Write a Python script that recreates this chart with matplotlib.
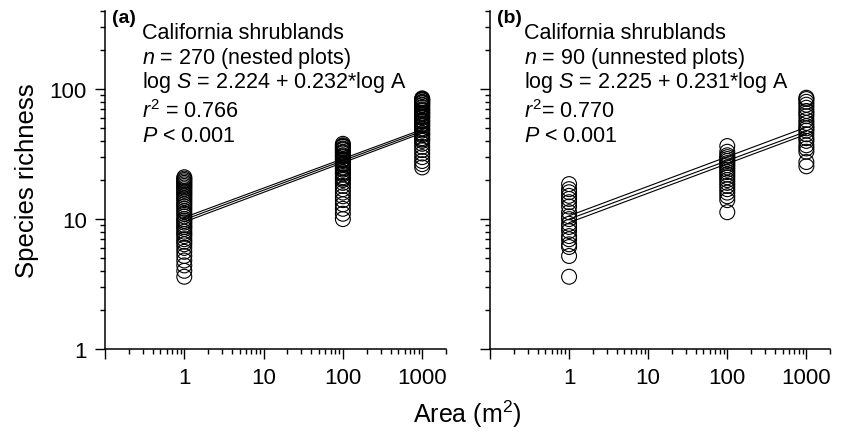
import matplotlib
matplotlib.use('Agg')
import matplotlib.pyplot as plt
from matplotlib.ticker import FixedLocator, NullFormatter

plt.rcParams['font.family'] = ['Liberation Sans', 'DejaVu Sans']
plt.rcParams['mathtext.fontset'] = 'custom'
plt.rcParams['mathtext.rm'] = 'Liberation Sans'
plt.rcParams['mathtext.it'] = 'Liberation Sans:italic'

# ----- data -----------------------------------------------------------------
areas = [1, 100, 1000]

# (a) nested plots
nested_1 = [21, 20.5, 20, 19.5, 19, 18.5, 18, 17.5, 17, 16.5, 16, 15.5, 15, 14.5,
            14, 13.5, 13, 12.5, 12, 11.5, 11, 10.5, 10, 9.7, 9.4, 9, 8.7, 8.4,
            8, 7.7, 7.4, 7, 6.7, 6.4, 6, 5.6, 5.2, 4.8, 4.4, 4.0, 3.6]
nested_100 = [38, 37, 36.5, 36, 35, 34.5, 34, 33, 32.5, 32, 31, 30.5, 30, 29,
              28.5, 28, 27, 26.5, 26, 25, 24.5, 24, 23, 22.5, 22, 21, 20.5, 20,
              19, 18, 17, 16, 15, 14, 13, 12, 11, 10]
nested_1000 = [85, 84, 83, 82, 80, 79, 78, 76, 75, 73, 72, 70, 69, 68, 66, 65,
               64, 62, 61, 60, 58, 57, 56, 54, 53, 52, 50, 49, 48, 46, 45, 44,
               42, 41, 40, 38, 36, 34, 32, 30, 28, 26.5, 25]
nested_lines = [[10.3, 49.0], [9.9, 47.5], [9.5, 46.0]]

# (b) unnested plots
unnested_1 = [18.6, 17, 16.1, 15.1, 14.3, 13.5, 12.5, 11.3, 10.5, 10, 9.2, 8.7,
              8.1, 7.4, 7.0, 6.4, 6.1, 5.2, 3.6]
unnested_100 = [36.5, 33, 31, 30, 29, 28, 27, 26, 25, 24, 23, 22, 21, 20, 19,
                18, 17, 16, 15, 14, 11.3]
unnested_1000 = [86, 84, 80, 76, 72, 68, 65, 62, 58, 55, 52, 50, 48, 45, 42,
                 40, 37, 35, 33, 27.5, 25.5]
unnested_lines = [[10.6, 51.0], [10.0, 47.3], [9.4, 45.0]]

panel_a_text = ['California shrublands',
                r'$n$ = 270 (nested plots)',
                r'log $S$ = 2.224 + 0.232*log A',
                r'$r^2$ = 0.766',
                r'$P$ < 0.001']
panel_b_text = ['California shrublands',
                r'$n$ = 90 (unnested plots)',
                r'log $S$ = 2.225 + 0.231*log A',
                r'$r^2$= 0.770',
                r'$P$ < 0.001']

x_ticks = [0.1, 1, 10, 100, 1000]
x_ticklabels = ['', '1', '10', '100', '1000']
y_ticks = [1, 10, 100]
y_ticklabels = ['1', '10', '100']


def setup_axis(ax, show_ylabels):
    ax.set_xscale('log')
    ax.set_yscale('log')
    ax.set_xlim(0.1, 2000)
    ax.set_ylim(1, 400)
    ax.spines['right'].set_color('none')
    ax.spines['top'].set_color('none')
    ax.spines['left'].set_linewidth(1.1)
    ax.spines['bottom'].set_linewidth(1.1)
    ax.set_xticks(x_ticks)
    ax.set_xticklabels(x_ticklabels)
    ax.set_yticks(y_ticks)
    ax.set_yticklabels(y_ticklabels if show_ylabels else ['', '', ''])
    ax.xaxis.set_minor_locator(FixedLocator(
        [m * d for d in [0.1, 1, 10, 100, 1000] for m in range(2, 10) if m * d <= 2000]))
    ax.yaxis.set_minor_locator(FixedLocator(
        [m * d for d in [1, 10, 100] for m in range(2, 10) if m * d <= 400]))
    ax.xaxis.set_minor_formatter(NullFormatter())
    ax.yaxis.set_minor_formatter(NullFormatter())
    ax.tick_params(which='major', direction='out', length=7, width=1.0,
                   labelsize=16, pad=6)
    ax.tick_params(which='minor', direction='out', length=3.5, width=1.0)


def draw_panel(ax, groups, lines, lines_text, tag, text_x):
    for xa, ys in zip(areas, groups):
        ax.scatter([xa] * len(ys), ys, s=115, facecolors='none',
                   edgecolors='black', linewidths=0.8, zorder=3)
    for ln in lines:
        ax.plot([areas[0], areas[-1]], ln, color='black', linewidth=0.8, zorder=2)
    ax.text(0.022, 1.005, tag, transform=ax.transAxes, fontsize=14,
            weight='bold', va='top', ha='left')
    ypos = [0.920, 0.846, 0.775, 0.686, 0.615]
    for txt, yy in zip(lines_text, ypos):
        ax.text(text_x, yy, txt, transform=ax.transAxes, fontsize=15.5,
                va='baseline', ha='left')


fig = plt.figure(figsize=(8.48, 4.35), dpi=100)
ax1 = fig.add_axes([0.1238, 0.1954, 0.4022, 0.777])
ax2 = fig.add_axes([0.5778, 0.1954, 0.4012, 0.777])

setup_axis(ax1, True)
setup_axis(ax2, False)

draw_panel(ax1, [nested_1, nested_100, nested_1000], nested_lines,
           panel_a_text, '(a)', 0.11)
draw_panel(ax2, [unnested_1, unnested_100, unnested_1000], unnested_lines,
           panel_b_text, '(b)', 0.10)

ax1.set_ylabel('Species richness', fontsize=18.5, labelpad=8)
fig.text(0.551, 0.047, r'Area (m$^2$)', fontsize=18, ha='center', va='center')

fig.savefig('out.png', dpi=100)
